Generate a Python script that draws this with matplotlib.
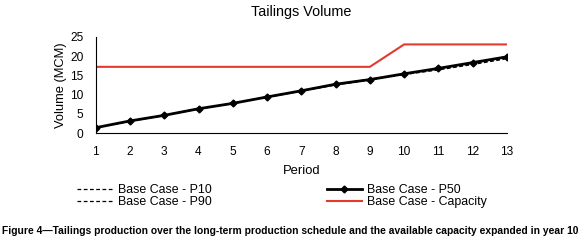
import matplotlib
matplotlib.use('Agg')
import matplotlib.pyplot as plt

plt.rcParams['font.family'] = ['Liberation Sans', 'DejaVu Sans']

period = [1, 2, 3, 4, 5, 6, 7, 8, 9, 10, 11, 12, 13]
p10 = [1.45, 3.1, 4.6, 6.3, 7.7, 9.3, 10.9, 12.5, 13.8, 15.2, 16.4, 17.8, 19.3]
p50 = [1.45, 3.2, 4.65, 6.35, 7.75, 9.4, 11.0, 12.7, 13.9, 15.4, 16.8, 18.3, 19.8]
p90 = [1.45, 3.2, 4.7, 6.4, 7.8, 9.45, 11.05, 12.7, 14.0, 15.3, 16.6, 18.0, 19.5]
capacity = [17.2, 17.2, 17.2, 17.2, 17.2, 17.2, 17.2, 17.2, 17.2, 23, 23, 23, 23]

fig = plt.figure(figsize=(5.8, 2.44), dpi=100)
ax = fig.add_axes([0.165, 0.4537, 0.709, 0.3959])

l10, = ax.plot(period, p10, 'k--', lw=0.9, dashes=(3, 2), label='Base Case - P10')
l90, = ax.plot(period, p90, 'k--', lw=0.9, dashes=(3, 2), label='Base Case - P90')
cap, = ax.plot(period, capacity, color='#e23b2e', lw=1.5, label='Base Case - Capacity')
l50, = ax.plot(period, p50, 'k-', marker='D', ms=3.5, lw=2, label='Base Case - P50')

ax.set_xlim(1, 13)
ax.set_ylim(0, 25)
ax.set_xticks(period)
ax.set_yticks([0, 5, 10, 15, 20, 25])
ax.spines[['top', 'right']].set_visible(False)
ax.tick_params(length=0, labelsize=8.6)
ax.tick_params(axis='x', pad=9)
ax.tick_params(axis='y', pad=9)
ax.set_xlabel('Period', fontsize=9.4, labelpad=5)
ax.set_ylabel('Volume (MCM)', fontsize=9.3, labelpad=2)
ax.set_title('Tailings Volume', fontsize=10.4, pad=15)

fig.legend(handles=[l10, l90, l50, cap], loc='upper left', bbox_to_anchor=(0.1328, 0.246),
           ncol=2, frameon=False, fontsize=8.9, handlelength=2.9, columnspacing=9.3,
           labelspacing=0.0, borderaxespad=0, borderpad=0, handletextpad=0.4)

fig.text(0.004, 0.04, 'Figure 4\u2014Tailings production over the long-term production schedule and the available capacity expanded in year 10',
         fontsize=7.35, fontweight='bold', family=['Liberation Sans Narrow', 'Liberation Sans', 'DejaVu Sans'])

fig.savefig('out.png', dpi=100)
